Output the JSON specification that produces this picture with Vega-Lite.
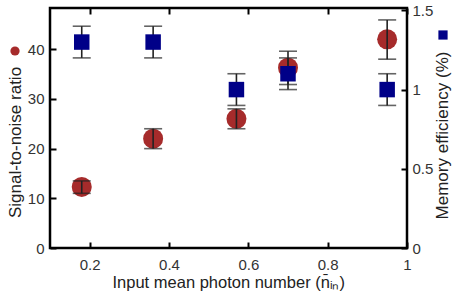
{
  "$schema": "https://vega.github.io/schema/vega-lite/v6.json",
  "width": 357,
  "height": 240,
  "autosize": "none",
  "padding": {"left": 50, "top": 8, "right": 56, "bottom": 47},
  "background": "white",
  "datasets": {
    "snr": [
      {"n": 0.18, "series": "SNR", "snr": 12.3, "lo": 11.0, "hi": 13.5},
      {"n": 0.36, "series": "SNR", "snr": 22.0, "lo": 20.0, "hi": 24.0},
      {"n": 0.57, "series": "SNR", "snr": 26.0, "lo": 24.0, "hi": 28.0},
      {"n": 0.70, "series": "SNR", "snr": 36.3, "lo": 32.9, "hi": 39.6},
      {"n": 0.95, "series": "SNR", "snr": 42.0, "lo": 38.0, "hi": 45.9}
    ],
    "eff": [
      {"n": 0.18, "series": "Efficiency", "eff": 1.3, "lo": 1.2, "hi": 1.4},
      {"n": 0.36, "series": "Efficiency", "eff": 1.3, "lo": 1.2, "hi": 1.4},
      {"n": 0.57, "series": "Efficiency", "eff": 1.0, "lo": 0.9, "hi": 1.1},
      {"n": 0.70, "series": "Efficiency", "eff": 1.1, "lo": 1.0, "hi": 1.2},
      {"n": 0.95, "series": "Efficiency", "eff": 1.0, "lo": 0.9, "hi": 1.1}
    ]
  },
  "config": {
    "view": {"stroke": "black", "strokeWidth": 2.5},
    "font": "Liberation Sans",
    "axis": {
      "grid": false,
      "domain": false,
      "offset": -6,
      "tickColor": "black",
      "tickWidth": 2,
      "tickSize": 6,
      "format": "~r",
      "labelFont": "Liberation Sans",
      "labelFontSize": 15,
      "labelColor": "#333333",
      "titleFont": "Liberation Sans",
      "titleFontSize": 16.5,
      "titleFontWeight": "normal",
      "titleColor": "#222222"
    }
  },
  "layer": [
    {
      "data": {"name": "snr"},
      "layer": [
        {
          "mark": {"type": "point", "filled": true, "shape": "circle", "size": 400, "opacity": 1, "color": "#a62b2b"},
          "encoding": {
            "x": {"field": "n", "type": "quantitative",
              "scale": {"domain": [0.1, 1], "nice": false, "zero": false},
              "axis": {"orient": "bottom", "values": [0.2, 0.4, 0.6, 0.8, 1], "labelPadding": 9, "labelFlush": false,
                "title": "Input mean photon number (n̄ᵢₙ)", "titleAlign": "left", "titleBaseline": "middle", "titleX": 62, "titleY": 40}},
            "y": {"field": "snr", "type": "quantitative",
              "scale": {"domain": [0, 48.3], "nice": false},
              "axis": {"orient": "left", "values": [0, 10, 20, 30, 40], "labelPadding": 6, "labelFlush": false, "titleFontSize": 17,
                "title": "Signal-to-noise ratio", "titleAngle": -90, "titleAlign": "center", "titleBaseline": "middle", "titleX": -40.5, "titleY": 134}},
            "color": {"field": "series", "type": "nominal",
              "scale": {"domain": ["SNR"], "range": ["#a62b2b"]},
              "legend": {"orient": "none", "legendX": -40, "legendY": 38, "title": null, "labelFontSize": 0, "padding": 0,
                "symbolType": "circle", "symbolSize": 85, "symbolStrokeWidth": 0,
                "encode": {"symbols": {"update": {"fill": {"value": "#d40000"}, "stroke": {"value": "transparent"}}}}}}
          }
        },
        {
          "mark": {"type": "errorbar", "ticks": {"size": 18, "thickness": 1.6, "color": "#222222"}, "rule": {"strokeWidth": 1.6, "color": "#222222"}},
          "encoding": {
            "x": {"field": "n", "type": "quantitative"},
            "y": {"field": "lo", "type": "quantitative", "title": "Signal-to-noise ratio"},
            "y2": {"field": "hi"}
          }
        }
      ]
    },
    {
      "data": {"name": "eff"},
      "layer": [
        {
          "mark": {"type": "errorbar", "ticks": {"size": 18, "thickness": 1.6, "color": "#222222"}, "rule": {"strokeWidth": 1.6, "color": "#222222"}},
          "encoding": {
            "x": {"field": "n", "type": "quantitative",
              "scale": {"domain": [0.1, 1], "nice": false, "zero": false},
              "axis": {"orient": "top", "values": [0.2, 0.4, 0.6, 0.8, 1], "labels": false, "title": null}},
            "y": {"field": "lo", "type": "quantitative", "title": "Memory efficiency (%)",
              "scale": {"domain": [0, 1.515], "nice": false}},
            "y2": {"field": "hi"}
          }
        },
        {
          "mark": {"type": "point", "filled": true, "shape": "square", "size": 240, "opacity": 1, "color": "#000088"},
          "encoding": {
            "x": {"field": "n", "type": "quantitative"},
            "y": {"field": "eff", "type": "quantitative",
              "axis": {"orient": "right", "values": [0, 0.5, 1, 1.5], "labelPadding": 5, "labelFlush": false, "titleFontSize": 17,
                "title": "Memory efficiency (%)", "titleAngle": -90, "titleAlign": "center", "titleBaseline": "middle", "titleX": 41, "titleY": 127}},
            "color": {"field": "series", "type": "nominal",
              "scale": {"domain": ["Efficiency"], "range": ["#000088"]},
              "legend": {"orient": "none", "legendX": 388, "legendY": 22, "title": null, "labelFontSize": 0, "padding": 0,
                "symbolType": "square", "symbolSize": 85, "symbolStrokeWidth": 0,
                "encode": {"symbols": {"update": {"fill": {"value": "#000099"}, "stroke": {"value": "transparent"}}}}}}
          }
        }
      ]
    }
  ],
  "resolve": {"scale": {"x": "independent", "y": "independent", "color": "independent"}, "axis": {"x": "independent", "y": "independent"}, "legend": {"color": "independent"}}
}
